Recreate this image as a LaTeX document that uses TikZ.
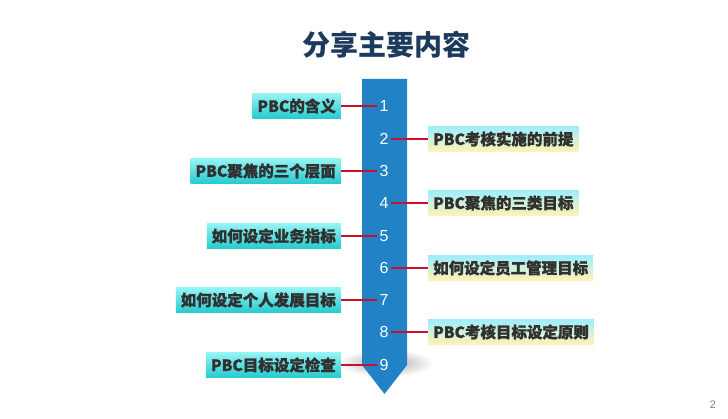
\documentclass[tikz,border=0pt]{standalone}
\usepackage{fontspec}
\setmainfont{Liberation Sans}
\newfontfamily\cjk{Noto Sans CJK SC}[BoldFeatures={FakeBold=1.2}]
\newfontfamily\cjkt{Noto Sans CJK SC}
\definecolor{barblue}{HTML}{2183C6}
\definecolor{titlec}{HTML}{1B3A5C}
\definecolor{leftT}{HTML}{96F4F4}
\definecolor{leftB}{HTML}{26CACE}
\definecolor{rightT}{HTML}{9EEEFF}
\definecolor{rightB}{HTML}{FFF3B4}
\definecolor{linkred}{HTML}{C8102E}
\definecolor{txt}{HTML}{303030}
\tikzset{
  lbox/.style={anchor=east, minimum height=25pt, inner xsep=5pt, inner ysep=0pt,
    top color=leftT, bottom color=leftB, text=txt, font=\cjk\bfseries\fontsize{15.5}{15.5}\selectfont},
  rbox/.style={anchor=west, minimum height=25pt, inner xsep=5pt, inner ysep=0pt,
    top color=rightT, bottom color=rightB, text=txt, font=\cjk\bfseries\fontsize{15.5}{15.5}\selectfont},
  num/.style={text=white, font=\fontsize{16}{16}\selectfont, inner sep=2pt},
  link/.style={draw=linkred, line width=1.5pt}
}
\begin{document}
\begin{tikzpicture}[x=1pt,y=-1pt]
\useasboundingbox (0,0) rectangle (728,419);
\fill[white] (0,0) rectangle (728,419);
% title
\node[text=titlec, font=\cjkt\bfseries\fontsize{28}{28}\selectfont] (title) at (386,45) {分享主要内容};
% soft cast shadow under the bar
\shade[inner color=black!35, outer color=white] (386,363) ellipse [x radius=48pt, y radius=14pt];
\fill[barblue] (362,79) -- (407,79) -- (407,365) -- (384.5,394) -- (362,365) -- cycle;
% numbers
\node[num] (n1) at (384,106) {1};
\node[num] (n2) at (384,139) {2};
\node[num] (n3) at (384,171) {3};
\node[num] (n4) at (384,203) {4};
\node[num] (n5) at (384,236) {5};
\node[num] (n6) at (384,268) {6};
\node[num] (n7) at (384,300) {7};
\node[num] (n8) at (384,332) {8};
\node[num] (n9) at (384,365) {9};
% left boxes
\node[lbox] (b1) at (341,106) {PBC的含义};
\node[lbox] (b3) at (341,171) {PBC聚焦的三个层面};
\node[lbox] (b5) at (341,236) {如何设定业务指标};
\node[lbox] (b7) at (341,300) {如何设定个人发展目标};
\node[lbox] (b9) at (341,365) {PBC目标设定检查};
% right boxes
\node[rbox] (b2) at (428,139) {PBC考核实施的前提};
\node[rbox] (b4) at (428,203) {PBC聚焦的三类目标};
\node[rbox] (b6) at (428,268) {如何设定员工管理目标};
\node[rbox] (b8) at (428,332) {PBC考核目标设定原则};
% links
\draw[link] (b1.east) -- (n1.west);
\draw[link] (b3.east) -- (n3.west);
\draw[link] (b5.east) -- (n5.west);
\draw[link] (b7.east) -- (n7.west);
\draw[link] (b9.east) -- (n9.west);
\draw[link] (n2.east) -- (b2.west);
\draw[link] (n4.east) -- (b4.west);
\draw[link] (n6.east) -- (b6.west);
\draw[link] (n8.east) -- (b8.west);
% page number
\node[text=gray, font=\fontsize{11}{11}\selectfont] (pg) at (713,405) {2};
\end{tikzpicture}
\end{document}
